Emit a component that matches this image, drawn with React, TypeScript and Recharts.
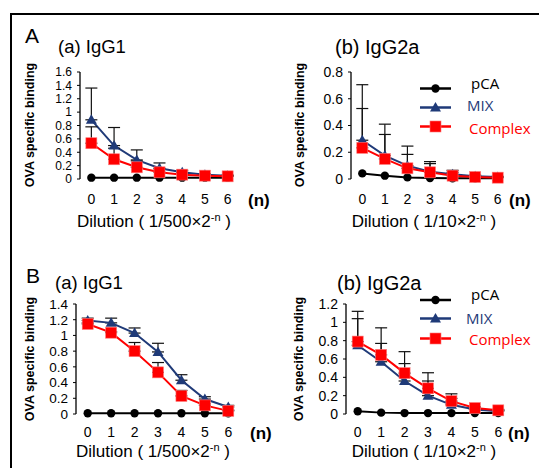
import { LineChart, Line, XAxis, YAxis, ErrorBar } from 'recharts'

// dilution steps (n)
const dilution = [0, 1, 2, 3, 4, 5, 6]
const boundaryTicks = [-0.5, 0.5, 1.5, 2.5, 3.5, 4.5, 5.5, 6.5]

// A (a) IgG1
const aIgG1Pca = [0.02, 0.02, 0.02, 0.02, 0.02, 0.02, 0.02]
const aIgG1Mix = [0.885, 0.5, 0.285, 0.16, 0.1, 0.065, 0.05]
const aIgG1MixTop = [1.36, 0.77, 0.435, 0.24, 0.13, 0.08, 0.06]
const aIgG1Complex = [0.535, 0.295, 0.175, 0.1, 0.065, 0.05, 0.04]
const aIgG1ComplexTop = [0.78, 0.46, 0.27, 0.15, 0.09, 0.06, 0.05]
const aIgG1Ticks = [0, 0.2, 0.4, 0.6, 0.8, 1, 1.2, 1.4, 1.6]

// A (b) IgG2a
const aIgG2aPca = [0.042, 0.025, 0.012, 0.008, 0.005, 0.005, 0.005]
const aIgG2aMix = [0.29, 0.175, 0.1, 0.055, 0.035, 0.02, 0.015]
const aIgG2aMixTop = [0.705, 0.41, 0.246, 0.13, 0.065, 0.03, 0.02]
const aIgG2aComplex = [0.233, 0.15, 0.08, 0.05, 0.025, 0.015, 0.01]
const aIgG2aComplexTop = [0.527, 0.333, 0.184, 0.115, 0.05, 0.025, 0.015]
const aIgG2aTicks = [0, 0.2, 0.4, 0.6, 0.8]

// B (a) IgG1
const bIgG1Pca = [0.01, 0.01, 0.01, 0.01, 0.01, 0.01, 0.01]
const bIgG1Mix = [1.19, 1.16, 1.03, 0.79, 0.43, 0.19, 0.09]
const bIgG1MixTop = [1.22, 1.22, 1.095, 0.9, 0.5, 0.22, 0.11]
const bIgG1Complex = [1.146, 1.035, 0.8, 0.53, 0.23, 0.11, 0.04]
const bIgG1ComplexTop = [1.16, 1.05, 0.91, 0.655, 0.3, 0.13, 0.05]
const bIgG1Ticks = [0, 0.2, 0.4, 0.6, 0.8, 1, 1.2, 1.4]

// B (b) IgG2a
const bIgG2aPca = [0.03, 0.015, 0.01, 0.01, 0.01, 0.01, 0.01]
const bIgG2aMix = [0.75, 0.57, 0.36, 0.2, 0.1, 0.05, 0.03]
const bIgG2aMixTop = [1.04, 0.77, 0.55, 0.36, 0.17, 0.07, 0.04]
const bIgG2aComplex = [0.79, 0.645, 0.446, 0.28, 0.14, 0.065, 0.04]
const bIgG2aComplexTop = [1.12, 0.94, 0.68, 0.45, 0.22, 0.08, 0.05]
const bIgG2aTicks = [0, 0.2, 0.4, 0.6, 0.8, 1, 1.2]

const seriesNames = ['pCA', 'MIX', 'Complex']

const BLACK = '#000'
const NAVY = '#1f3a78'
const RED = '#ff0000'
const AXIS_FONT = '"Liberation Sans", Arial, sans-serif'

const buildRows = (pca: number[], mix: number[], mixTop: number[], cx: number[], cxTop: number[]) =>
  dilution.map((x, i) => ({
    x,
    pca: pca[i],
    mix: mix[i],
    complex: cx[i],
    mixErr: [0, Math.max(0, mixTop[i] - mix[i])],
    complexErr: [0, Math.max(0, cxTop[i] - cx[i])],
  }))

const Tri = ({ cx, cy, fill }: any) => (
  <path d={`M${cx},${cy - 5.5} L${cx + 5.5},${cy + 4} L${cx - 5.5},${cy + 4} Z`} fill={fill} />
)
const Sq = ({ cx, cy, fill }: any) => (
  <rect x={cx - 5.5} y={cy - 5.5} width={11} height={11} fill={fill} stroke="#f77" strokeWidth={0.6} />
)
const Dot = ({ cx, cy, fill }: any) => <circle cx={cx} cy={cy} r={4.2} fill={fill} />

const markerFor = (name: string, cx: number, cy: number) => {
  if (name === 'MIX') return <Tri cx={cx} cy={cy} fill={NAVY} />
  if (name === 'Complex') return <Sq cx={cx} cy={cy} fill={RED} />
  return <Dot cx={cx} cy={cy} fill={BLACK} />
}
const colorFor = (name: string) => (name === 'MIX' ? NAVY : name === 'Complex' ? RED : BLACK)

interface PanelProps {
  rows: any[]
  ticks: number[]
  left: number
  top: number
  width: number
  height: number
  tickGap: number
  yFont: number
}

// height is the distance from chart top to the x axis line plus the label band
function Panel({ rows, ticks, left, top, width, height, tickGap, yFont }: PanelProps) {
  const yMax = ticks[ticks.length - 1]
  return (
    <div style={{ position: 'absolute', left, top }}>
      <LineChart width={width} height={height + 12} data={rows} margin={{ top: 10, right: 3, left: 0, bottom: 12 }}>
        <YAxis
          type="number"
          domain={[0, yMax]}
          ticks={ticks}
          interval={0}
          width={60}
          tickSize={3}
          tickMargin={5}
          tick={{ fontSize: yFont, fill: '#000', fontFamily: AXIS_FONT }}
          axisLine={{ stroke: '#000', strokeWidth: 1.3 }}
          tickLine={{ stroke: '#000', strokeWidth: 1 }}
        />
        <XAxis
          xAxisId="t"
          type="number"
          dataKey="x"
          domain={[-0.5, 6.5]}
          ticks={boundaryTicks}
          interval={0}
          height={0}
          tickSize={4}
          tickFormatter={() => ''}
          axisLine={{ stroke: '#000', strokeWidth: 2 }}
          tickLine={{ stroke: '#000', strokeWidth: 1.3 }}
        />
        <XAxis
          xAxisId="l"
          type="number"
          dataKey="x"
          domain={[-0.5, 6.5]}
          ticks={dilution}
          interval={0}
          height={25}
          tickSize={4}
          tickMargin={tickGap}
          axisLine={false}
          tickLine={false}
          tick={{ fontSize: 14, fill: '#000', fontFamily: AXIS_FONT }}
        />
        <Line
          xAxisId="l"
          dataKey="pca"
          stroke={BLACK}
          strokeWidth={2}
          isAnimationActive={false}
          dot={(p: any) => <Dot key={`p${p.index}`} cx={p.cx} cy={p.cy} fill={BLACK} />}
        />
        <Line
          xAxisId="l"
          dataKey="mix"
          stroke={NAVY}
          strokeWidth={2}
          isAnimationActive={false}
          dot={(p: any) => <Tri key={`m${p.index}`} cx={p.cx} cy={p.cy} fill={NAVY} />}
        >
          <ErrorBar dataKey="mixErr" direction="y" width={6} stroke="#111" strokeWidth={1.2} />
        </Line>
        <Line
          xAxisId="l"
          dataKey="complex"
          stroke={RED}
          strokeWidth={2}
          isAnimationActive={false}
          dot={(p: any) => <Sq key={`c${p.index}`} cx={p.cx} cy={p.cy} fill={RED} />}
        >
          <ErrorBar dataKey="complexErr" direction="y" width={6} stroke="#111" strokeWidth={1.2} />
        </Line>
      </LineChart>
    </div>
  )
}

function Legend({ left, lineY, textY, textX }: { left: number; lineY: number[]; textY: number[]; textX: number[] }) {
  return (
    <>
      <svg style={{ position: 'absolute', left, top: 0, overflow: 'visible' }} width={32} height={1}>
        {seriesNames.map((name, i) => (
          <g key={name}>
            <line x1={0} x2={31} y1={lineY[i]} y2={lineY[i]} stroke={colorFor(name)} strokeWidth={2.5} />
            {markerFor(name, 15.5, lineY[i])}
          </g>
        ))}
      </svg>
      {seriesNames.map((name, i) => (
        <div
          key={name}
          style={{
            position: 'absolute',
            left: textX[i],
            top: textY[i],
            transform: 'translateY(-50%)',
            fontFamily: '"Open Sans", sans-serif',
            fontSize: 15,
            lineHeight: 1,
            color: colorFor(name),
            whiteSpace: 'nowrap',
          }}
        >
          {name}
        </div>
      ))}
    </>
  )
}

const Txt = ({ x, y, size, bold, children, center }: any) => (
  <div
    style={{
      position: 'absolute',
      left: x,
      top: y,
      transform: `${center ? 'translateX(-50%) ' : ''}translateY(-50%)`,
      fontFamily: AXIS_FONT,
      fontSize: size,
      fontWeight: bold ? 'bold' : 'normal',
      lineHeight: 1,
      whiteSpace: 'nowrap',
      color: '#000',
    }}
  >
    {children}
  </div>
)

const YLabel = ({ x, y }: { x: number; y: number }) => (
  <div
    style={{
      position: 'absolute',
      left: x,
      top: y,
      transform: 'translate(-50%, -50%) rotate(-90deg)',
      fontFamily: AXIS_FONT,
      fontSize: 12.5,
      fontWeight: 'bold',
      lineHeight: 1,
      whiteSpace: 'nowrap',
    }}
  >
    OVA specific binding
  </div>
)

const Dilution = ({ x, y, base }: { x: number; y: number; base: string }) => (
  <Txt x={x} y={y} size={17} center>
    Dilution ( {base}×2<sup style={{ fontSize: 11, verticalAlign: 'top', position: 'relative', top: -1 }}>-n</sup> )
  </Txt>
)

export default function App() {
  const aIgG1 = buildRows(aIgG1Pca, aIgG1Mix, aIgG1MixTop, aIgG1Complex, aIgG1ComplexTop)
  const aIgG2a = buildRows(aIgG2aPca, aIgG2aMix, aIgG2aMixTop, aIgG2aComplex, aIgG2aComplexTop)
  const bIgG1 = buildRows(bIgG1Pca, bIgG1Mix, bIgG1MixTop, bIgG1Complex, bIgG1ComplexTop)
  const bIgG2a = buildRows(bIgG2aPca, bIgG2aMix, bIgG2aMixTop, bIgG2aComplex, bIgG2aComplexTop)

  return (
    <div style={{ position: 'fixed', left: 0, top: 0, width: 539, height: 468, background: '#fff', overflow: 'hidden' }}>
      {/* frame */}
      <div style={{ position: 'absolute', left: 10, top: 13, width: 540, height: 2, background: '#000' }} />
      <div style={{ position: 'absolute', left: 10, top: 13, width: 2, height: 460, background: '#000' }} />

      <Panel rows={aIgG1} ticks={aIgG1Ticks} left={20} top={62} width={222} height={142} tickGap={11} yFont={12} />
      <Panel rows={aIgG2a} ticks={aIgG2aTicks} left={291} top={62} width={221} height={142} tickGap={11} yFont={14} />
      <Panel rows={bIgG1} ticks={bIgG1Ticks} left={16} top={294} width={227} height={145} tickGap={9.5} yFont={13.5} />
      <Panel rows={bIgG2a} ticks={bIgG2aTicks} left={286} top={294} width={227} height={145} tickGap={9.5} yFont={14} />

      <Txt x={25} y={35} size={21}>A</Txt>
      <Txt x={26} y={275} size={21}>B</Txt>

      <Txt x={58} y={47} size={18.5}>(a) IgG1</Txt>
      <Txt x={335} y={47} size={20}>(b) IgG2a</Txt>
      <Txt x={55} y={283} size={18.5}>(a) IgG1</Txt>
      <Txt x={337} y={283} size={20}>(b) IgG2a</Txt>

      <YLabel x={30} y={125} />
      <YLabel x={300} y={125} />
      <YLabel x={30} y={359} />
      <YLabel x={299} y={359} />

      <Txt x={248} y={200} size={17} bold>(n)</Txt>
      <Txt x={509} y={200} size={17} bold>(n)</Txt>
      <Txt x={250} y={433} size={17} bold>(n)</Txt>
      <Txt x={508} y={433} size={17} bold>(n)</Txt>

      <Dilution x={154} y={221} base="1/500" />
      <Dilution x={424} y={221} base="1/10" />
      <Dilution x={153} y={451} base="1/500" />
      <Dilution x={424} y={451} base="1/10" />

      <Legend left={420} lineY={[88.5, 107.5, 126.5]} textY={[83, 105, 127.5]} textX={[471, 467, 469]} />
      <Legend left={420} lineY={[300, 318.5, 338.5]} textY={[294, 318, 339]} textX={[471, 466, 469]} />
    </div>
  )
}
